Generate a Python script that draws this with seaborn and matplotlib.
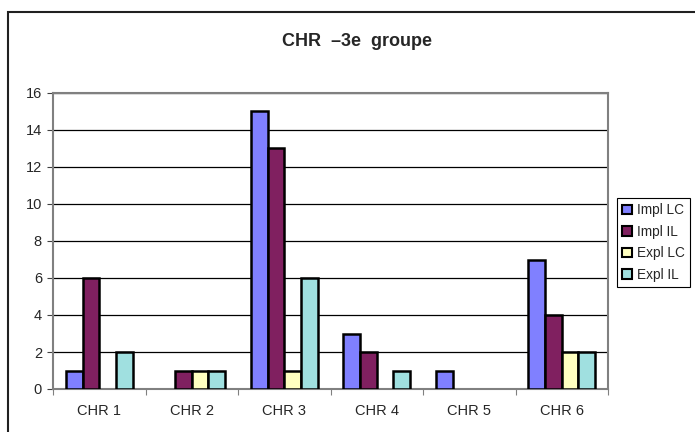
import matplotlib.pyplot as plt
import pandas as pd
import seaborn as sns
from matplotlib.patches import Rectangle

# Values
categories = ["CHR 1", "CHR 2", "CHR 3", "CHR 4", "CHR 5", "CHR 6"]
series = ["Impl LC", "Impl IL", "Expl LC", "Expl IL"]
impl_lc = [1, 0, 15, 3, 1, 7]
impl_il = [6, 1, 13, 2, 0, 4]
expl_lc = [0, 1, 1, 0, 0, 2]
expl_il = [2, 1, 6, 1, 0, 2]
colors = ["#8080ff", "#802060", "#ffffc0", "#a0e0e0"]

rows = []
for name, vals in zip(series, [impl_lc, impl_il, expl_lc, expl_il]):
	for cat, v in zip(categories, vals):
		rows.append({"cat": cat, "serie": name, "val": v})
data = pd.DataFrame(rows)

sns.set_style("white")
plt.rcParams["font.family"] = ["Liberation Sans", "DejaVu Sans"]

fig = plt.figure(figsize = (6.95, 4.32), dpi = 100)
ax = fig.add_axes([53 / 695, 1 - 389 / 432, 555 / 695, 296 / 432])

sns.barplot(data = data, x = "cat", y = "val", hue = "serie", order = categories, hue_order = series,
	palette = colors, width = 0.72, gap = 0, edgecolor = "black", linewidth = 1.8, saturation = 1,
	errorbar = None, ax = ax, zorder = 3)

ax.set_ylim(0, 16)
ax.set_xlim(-0.5, 5.5)
ax.set_yticks(range(0, 17, 2))
ax.yaxis.grid(True, color = "black", linewidth = 0.9, zorder = 0)
ax.set_axisbelow(True)
ax.set_xlabel("")
ax.set_ylabel("")

# category boundary ticks, labels centred in between
ax.set_xticks([i - 0.5 for i in range(7)])
ax.set_xticklabels([])
ax.set_xticks(range(6), minor = True)
ax.set_xticklabels(categories, minor = True, fontsize = 10.5)
ax.tick_params(axis = "x", which = "major", direction = "out", length = 4, color = "#808080", bottom = True)
ax.tick_params(axis = "x", which = "minor", length = 0, pad = 11)
ax.tick_params(axis = "y", direction = "out", length = 4, color = "#404040", left = True, labelsize = 10.5, pad = 4)

for s in ax.spines.values():
	s.set_color("#808080")
	s.set_linewidth(1.5)
	s.set_visible(True)

leg = ax.legend(loc = "upper left", bbox_to_anchor = (617 / 695, 1 - 198 / 432), bbox_transform = fig.transFigure,
	frameon = True, fancybox = False, edgecolor = "black", framealpha = 1, fontsize = 9.8,
	handlelength = 0.7, handleheight = 0.7, handletextpad = 0.35, borderpad = 0.4, labelspacing = 0.55,
	borderaxespad = 0)
leg.get_frame().set_linewidth(0.8)
for h in leg.get_patches():
	h.set_linewidth(1.5)

# empty bars are not drawn in the original (done after the legend copied the styles)
for p in ax.patches:
	if p.get_height() == 0:
		p.set_visible(False)

fig.text(357 / 695, 1 - 42 / 432, "CHR  \u20133e  groupe", ha = "center", va = "center",
	fontsize = 13, fontweight = "bold")

# outer chart frame, cut by the image edge on right and bottom
fig.patches.append(Rectangle((8 / 695, -0.05), 1.2, 1 - 12 / 432 + 0.05, transform = fig.transFigure,
	fill = False, edgecolor = "#202020", linewidth = 1.5))

fig.savefig("out.png", dpi = 100)
